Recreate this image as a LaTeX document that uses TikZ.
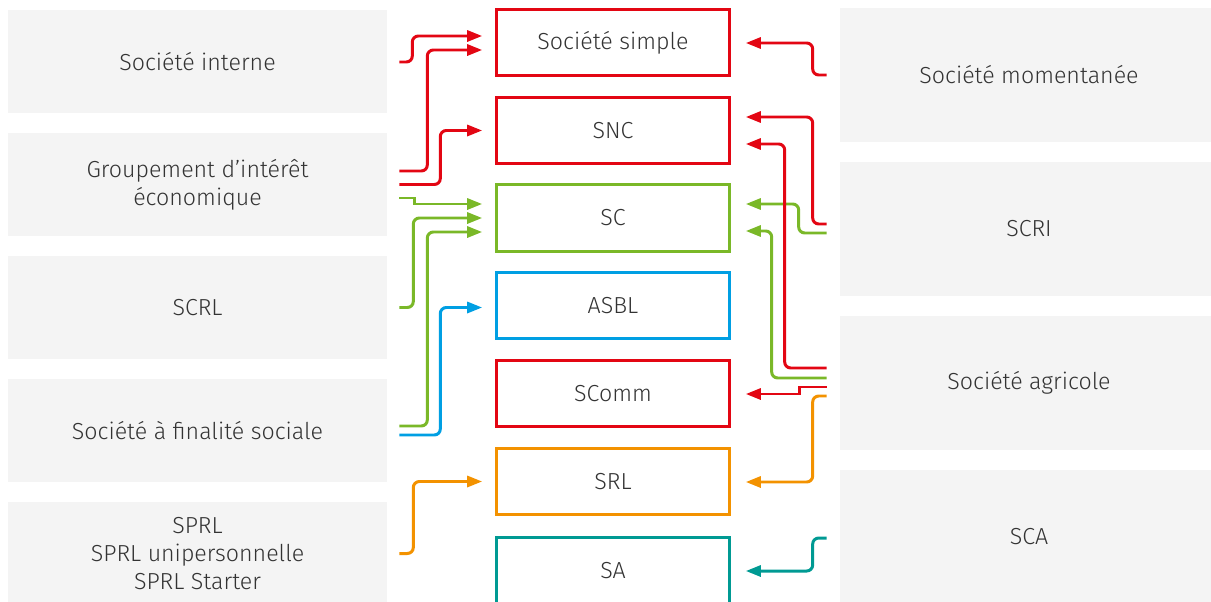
\documentclass[tikz,border=0pt]{standalone}
\usepackage{fontspec}
\setmainfont{Fira Sans}[UprightFont=* Light]
\usetikzlibrary{arrows.meta}
\definecolor{rouge}{RGB}{227,6,19}
\definecolor{vert}{RGB}{122,184,40}
\definecolor{bleu}{RGB}{0,159,227}
\definecolor{orange}{RGB}{243,146,0}
\definecolor{turquoise}{RGB}{0,154,147}
\definecolor{fond}{RGB}{244,244,244}
\definecolor{texte}{RGB}{51,51,51}
\begin{document}
\begin{tikzpicture}[x=0.02cm,y=-0.02cm,
    font=\fontsize{13.2}{15.9}\selectfont, text=texte,
    gauche/.style={fill=fond,minimum width=7.58cm,minimum height=2.06cm,align=center},
    droite/.style={fill=fond,minimum width=7.56cm,minimum height=2.68cm,align=center},
    forme/.style={draw=#1,line width=1.5pt,fill=white,minimum width=4.66cm,minimum height=1.33cm},
    lien/.style={draw=#1,line width=1.7pt,rounded corners=1.2mm,-{Triangle[length=3mm,width=2.2mm]}}]
            \clip (0,0) rectangle (1211,602);
            \node[gauche] (interne) at (197.5,61.5) {Société interne};
            \node[gauche] (gie) at (197.5,184.5) {Groupement d’intérêt\\économique};
            \node[gauche] (scrl) at (197.5,307.5) {SCRL};
            \node[gauche] (finalite) at (197.5,430.5) {Société à finalité sociale};
            \node[gauche] (sprl) at (197.5,553.5) {SPRL\\SPRL unipersonnelle\\SPRL Starter};
            \node[droite] (momentanee) at (1029,75) {Société momentanée};
            \node[droite] (scri) at (1029,229) {SCRI};
            \node[droite] (agricole) at (1029,383) {Société agricole};
            \node[droite] (sca) at (1029,537) {SCA};
            \node[forme=rouge] (simple) at (613,42.5) {Société simple};
            \node[forme=rouge] (snc) at (613,130.5) {SNC};
            \node[forme=vert] (sc) at (613,218) {SC};
            \node[forme=bleu] (asbl) at (613,305.5) {ASBL};
            \node[forme=rouge] (scomm) at (613,393.5) {SComm};
            \node[forme=orange] (srl) at (613,481.5) {SRL};
            \node[forme=turquoise] (sa) at (613,570.5) {SA};
            \draw[lien=rouge] ([shift={(12,0.5)}]interne.east) -- ++(13,0) |- ([shift={(-13,-6.5)}]simple.west);
            \draw[lien=rouge] ([shift={(12,-13.5)}]gie.east) -- ++(28,0) |- ([shift={(-13,7.5)}]simple.west);
            \draw[lien=rouge] ([shift={(12,0)}]gie.east) -- ++(41,0) |- ([shift={(-13,0)}]snc.west);
            \draw[lien=vert,sharp corners] ([shift={(12,13.5)}]gie.east) -- ++(15,0) |- ([shift={(-13,-14)}]sc.west);
            \draw[lien=vert] ([shift={(12,0)}]scrl.east) -- ++(14,0) |- ([shift={(-13,0)}]sc.west);
            \draw[lien=vert] ([shift={(12,-4.5)}]finalite.east) -- ++(28,0) |- ([shift={(-13,14)}]sc.west);
            \draw[lien=bleu] ([shift={(12,4.5)}]finalite.east) -- ++(41,0) |- ([shift={(-13,2)}]asbl.west);
            \draw[lien=orange] ([shift={(12,0)}]sprl.east) -- ++(14,0) |- ([shift={(-13,0)}]srl.west);
            \draw[lien=rouge] ([shift={(-13,0)}]momentanee.west) -- ++(-14,0) |- ([shift={(15,0.5)}]simple.east);
            \draw[lien=rouge] ([shift={(-13,-5)}]scri.west) -- ++(-14,0) |- ([shift={(15,-13.5)}]snc.east);
            \draw[lien=vert] ([shift={(-13,4)}]scri.west) -- ++(-28,0) |- ([shift={(15,-14)}]sc.east);
            \draw[lien=rouge] ([shift={(-13,-15)}]agricole.west) -- ++(-42,0) |- ([shift={(15,13.5)}]snc.east);
            \draw[lien=vert] ([shift={(-13,-5)}]agricole.west) -- ++(-55,0) |- ([shift={(15,13)}]sc.east);
            \draw[lien=rouge,sharp corners] ([shift={(-13,4)}]agricole.west) -- ++(-27,0) |- ([shift={(15,0.5)}]scomm.east);
            \draw[lien=orange] ([shift={(-13,13)}]agricole.west) -- ++(-14,0) |- ([shift={(15,0.5)}]srl.east);
            \draw[lien=turquoise] ([shift={(-13,1)}]sca.west) -- ++(-14,0) |- ([shift={(15,0.5)}]sa.east);
        \end{tikzpicture}
\end{document}
